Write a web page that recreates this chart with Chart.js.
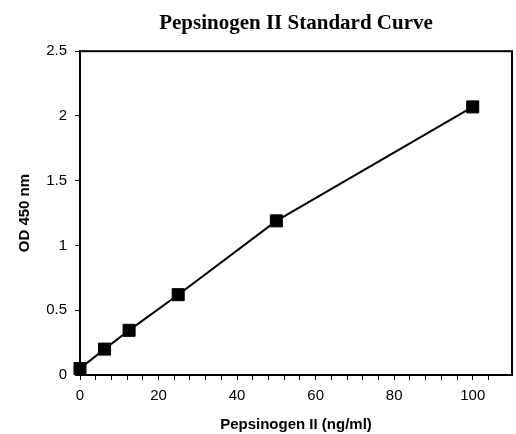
<!DOCTYPE html>
<html lang="en">
<head>
  <meta charset="UTF-8">
  <title>Pepsinogen II Standard Curve</title>
  <script src="https://cdn.jsdelivr.net/npm/chart.js"></script>
  <style>
    html, body { margin: 0; padding: 0; background: #fff; }
    #wrap { width: 516px; height: 434px; }
  </style>
</head>
<body>
  <div id="wrap"><canvas id="curve"></canvas></div>

  <script>
    // Standard curve readings (concentration vs OD)
    const concentrations = [0, 6.25, 12.5, 25, 50, 100];
    const odValues = [0.05, 0.2, 0.345, 0.62, 1.19, 2.07];
    const xLabelTicks = [0, 20, 40, 60, 80, 100];
    const yTicks = [0, 0.5, 1, 1.5, 2, 2.5];

    const points = concentrations.map((c, i) => ({ x: c, y: odValues[i] }));

    // box around the plot area (top and right edges)
    const frame = {
      id: 'frame',
      afterDraw(chart) {
        const { ctx, chartArea: a } = chart;
        ctx.save();
        ctx.strokeStyle = '#000';
        ctx.lineWidth = 2;
        ctx.strokeRect(a.left, a.top, a.right - a.left, a.bottom - a.top);
        ctx.restore();
      }
    };

    const sans = '"Liberation Sans", Arial, sans-serif';

    new Chart(document.getElementById('curve'), {
      type: 'scatter',
      data: {
        datasets: [{
          data: points,
          showLine: true,
          borderColor: '#000',
          borderWidth: 2,
          backgroundColor: '#000',
          pointStyle: 'rect',
          pointRadius: 8.5,
          pointBorderWidth: 1,
          pointHoverRadius: 8.5,
          clip: false
        }]
      },
      options: {
        responsive: true,
        maintainAspectRatio: false,
        animation: false,
        layout: { autoPadding: false, padding: { left: 0, right: 4, top: 0, bottom: 0 } },
        plugins: {
          legend: { display: false },
          tooltip: { enabled: false },
          title: {
            display: true,
            fullSize: false,
            text: 'Pepsinogen II Standard Curve',
            color: '#000',
            font: { family: '"Liberation Serif", "Times New Roman", serif', size: 21, weight: 'bold' },
            padding: { top: 11, bottom: 15 }
          }
        },
        scales: {
          x: {
            type: 'linear',
            min: 0,
            max: 110,
            afterFit(scale) {
              scale.height = 59;
              scale.paddingLeft = 0;
              scale.paddingRight = 0;
            },
            afterBuildTicks(scale) {
              scale.ticks = scale.ticks.filter(t => t.value % 4 === 0);
            },
            ticks: {
              stepSize: 4,
              autoSkip: false,
              maxRotation: 0,
              color: '#000',
              padding: 7,
              font: { family: sans, size: 15 },
              callback: v => (xLabelTicks.includes(v) ? v : '')
            },
            grid: { drawOnChartArea: false, drawTicks: true, tickLength: 5, color: '#000' },
            border: { display: true, color: '#000', width: 2 },
            title: {
              display: true,
              text: 'Pepsinogen II (ng/ml)',
              color: '#000',
              font: { family: sans, size: 15, weight: 'bold' },
              padding: { top: 0, bottom: 0 }
            }
          },
          y: {
            min: 0,
            max: 2.5,
            afterFit(scale) { scale.width = 80; },
            afterBuildTicks(scale) {
              scale.ticks = yTicks.map(v => ({ value: v }));
            },
            ticks: {
              color: '#000',
              padding: 8,
              font: { family: sans, size: 15 },
              callback: v => v
            },
            grid: { drawOnChartArea: false, drawTicks: true, tickLength: 5, color: '#000' },
            border: { display: true, color: '#000', width: 2 },
            title: {
              display: true,
              text: 'OD 450 nm',
              color: '#000',
              font: { family: sans, size: 15, weight: 'bold' },
              padding: { top: 16, bottom: 0 }
            }
          }
        }
      },
      plugins: [frame]
    });
  </script>
</body>
</html>
